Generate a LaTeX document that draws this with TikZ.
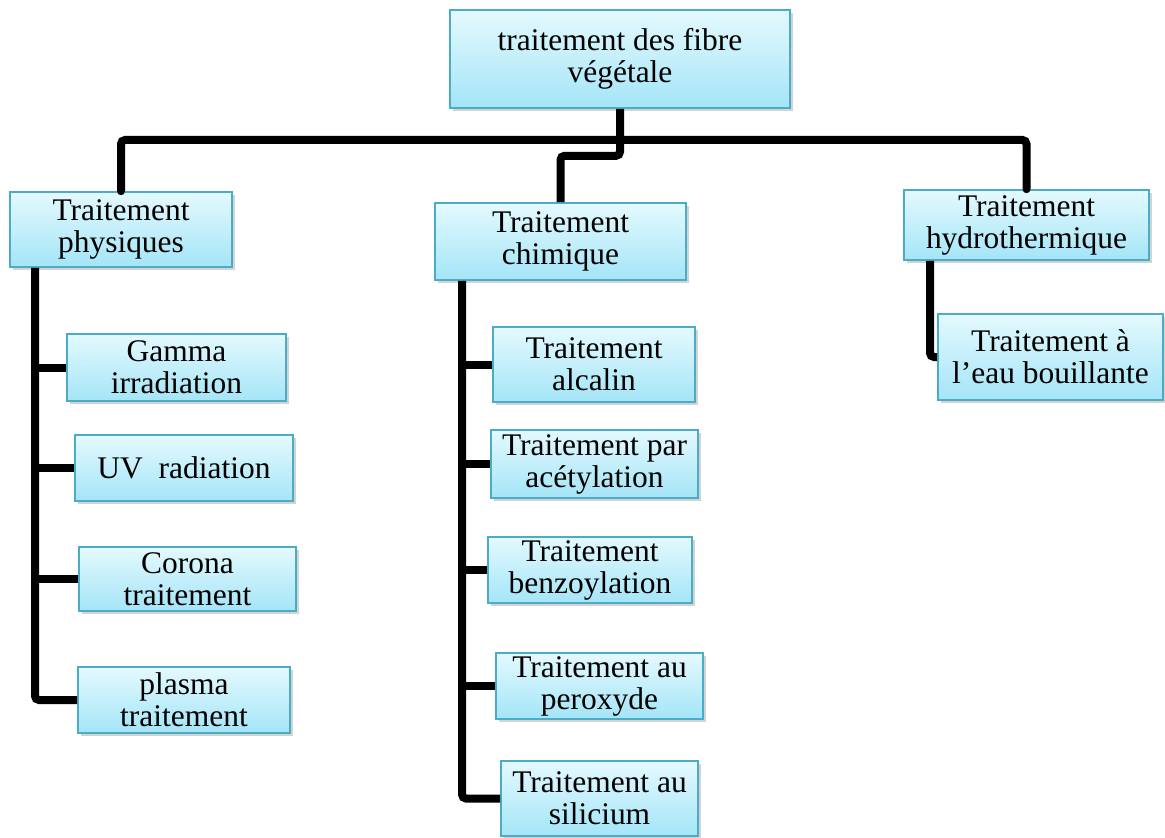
\documentclass[tikz,border=0pt]{standalone}
\usepackage{fontspec}
\setmainfont{Liberation Serif}
\usetikzlibrary{shadows}
\definecolor{boxline}{HTML}{4BACC6}
\definecolor{boxtop}{HTML}{E4F9FE}
\definecolor{boxbot}{HTML}{A4E5F7}

\begin{document}
\begin{tikzpicture}[x=0.75pt, y=-0.75pt,
    tbox/.style={draw=boxline, line width=1.2pt, top color=boxtop, bottom color=boxbot,
      drop shadow={shadow xshift=2pt, shadow yshift=-2pt, opacity=0.35},
      align=center, inner sep=0pt, font=\fontsize{23.6}{24}\selectfont},
    conn/.style={line width=6pt, black, rounded corners=3pt, line cap=round}]
      \useasboundingbox (0,0) rectangle (1165,838);
      % boxes: name/cx/cy/w/h/text
      \foreach \n/\cx/\cy/\w/\h/\t in {
          root/620/59/340/98/{traitement des fibre\\végétale},
          phys/121/229.5/222/75/{Traitement\\physiques},
          chim/560.5/241.5/251/77/{Traitement\\chimique},
          hydro/1026.5/225/245/70/{Traitement\\hydrothermique},
          gamma/176.5/367.5/219/67/{Gamma\\irradiation},
          uv/184/468/218/66/{UV\ \ radiation},
          corona/187.5/579/217/64/{Corona\\traitement},
          plasma/184/700/212/66/{plasma\\traitement},
          alcalin/594/364.5/202/75/{Traitement\\alcalin},
          acet/594.5/464/207/68/{Traitement par\\acétylation},
          benz/590/570/204/66/{Traitement\\benzoylation},
          perox/599.5/686/207/66/{Traitement au\\peroxyde},
          silic/599.5/798.5/197/75/{Traitement au\\silicium},
          eau/1050.5/357/225/86/{Traitement à\\l’eau bouillante}} {
        \node[tbox, minimum width=\w*0.75pt, minimum height=\h*0.75pt] (\n) at (\cx,\cy) {\t};
      }
      % trunk
      \coordinate (trunk) at (620,140);
      \coordinate (pspine) at (35,0);
      \coordinate (cspine) at (462,0);
      \coordinate (hspine) at (930,0);
      \draw[conn] (phys.north) -- (phys.north |- trunk) -- (hydro.north |- trunk) -- (hydro.north);
      \draw[conn, line cap=butt] (root.south) -- ++(0,47) -| (chim.north);
      % side branches
      \draw[conn, line cap=butt] (pspine |- phys.south) |- (plasma.west);
      \foreach \n in {gamma, uv, corona}
        \draw[conn, line cap=butt] (pspine |- \n.west) -- (\n.west);
      \draw[conn, line cap=butt] (cspine |- chim.south) |- (silic.west);
      \foreach \n in {alcalin, acet, benz, perox}
        \draw[conn, line cap=butt] (cspine |- \n.west) -- (\n.west);
      \draw[conn, line cap=butt] (hspine |- hydro.south) |- (eau.west);
    \end{tikzpicture}
\end{document}
